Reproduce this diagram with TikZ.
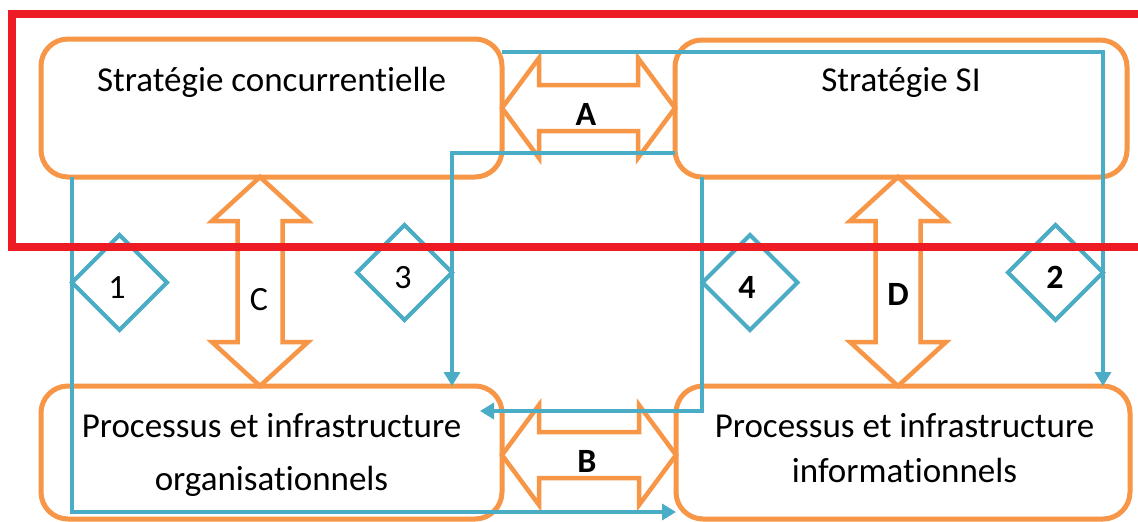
\documentclass[tikz,border=0pt]{standalone}
\usepackage{fontspec}
\setmainfont{Carlito}[RawFeature={-liga;-clig;-dlig}]
\usetikzlibrary{arrows.meta,shapes.geometric,calc}

\definecolor{boxorange}{HTML}{F79646}
\definecolor{linkblue}{HTML}{4BACC6}
\definecolor{framered}{HTML}{ED1C24}

% horizontal outlined double arrow between two points (same height)
\newcommand{\hblock}[2]{%
  \draw[blk] let \p1=(#1), \p2=(#2) in
    (\x1,\y1) -- (\x1+37pt,\y1+50pt) -- (\x1+37pt,\y1+23pt) -- (\x2-37pt,\y1+23pt)
    -- (\x2-37pt,\y1+50pt) -- (\x2,\y1) -- (\x2-37pt,\y1-50pt) -- (\x2-37pt,\y1-23pt)
    -- (\x1+37pt,\y1-23pt) -- (\x1+37pt,\y1-50pt) -- cycle;}
% vertical outlined double arrow, first point on top
\newcommand{\vblock}[2]{%
  \draw[blk] let \p1=(#1), \p2=(#2) in
    (\x1,\y1) -- (\x1+48pt,\y1-44pt) -- (\x1+22.5pt,\y1-44pt) -- (\x1+22.5pt,\y2+44pt)
    -- (\x1+48pt,\y2+44pt) -- (\x1,\y2) -- (\x1-48pt,\y2+44pt) -- (\x1-22.5pt,\y2+44pt)
    -- (\x1-22.5pt,\y1-44pt) -- (\x1-48pt,\y1-44pt) -- cycle;}

\tikzset{
  box/.style={draw=boxorange, line width=5pt, rounded corners=27pt,
              inner sep=0pt, outer sep=0pt},
  blk/.style={draw=boxorange, line width=4.5pt, fill=white, line join=miter},
  flow/.style={draw=linkblue, line width=4pt,
               -{Triangle[length=14pt,width=16pt]}},
  gate/.style={diamond, draw=linkblue, line width=4pt, aspect=1,
               minimum width=95pt, minimum height=95pt,
               inner sep=0pt, outer sep=0pt},
  txt/.style={font=\fontsize{35}{42}\selectfont, inner sep=0pt, anchor=base},
  tag/.style={font=\bfseries\fontsize{34}{40}\selectfont, inner sep=0pt, anchor=base},
  plaintag/.style={tag, font=\fontsize{34}{40}\selectfont},
}

\begin{document}
\begin{tikzpicture}[x=1pt,y=-1pt]
\clip (0,0) rectangle (1138,522);
\fill[white] (0,0) rectangle (1138,522);

% the four blocks
\node[box, minimum width=461pt, minimum height=138pt] (tl) at (271.5,108) {};
\node[box, minimum width=452pt, minimum height=137pt] (tr) at (901,108.5) {};
\node[box, minimum width=461pt, minimum height=133pt] (bl) at (271.5,452.5) {};
\node[box, minimum width=454pt, minimum height=133pt] (br) at (903,452.5) {};

\node[txt] (tlt) at (271.5,91) {Stratégie concurrentielle};
\node[txt] (trt) at (901,91) {Stratégie SI};
\node[txt] (blt1) at (271.5,437) {Processus et infrastructure};
\node[txt] (blt2) at (271.5,490) {organisationnels};
\node[txt] (brt1) at (904.5,437) {Processus et infrastructure};
\node[txt] (brt2) at (904.5,482) {informationnels};

% helper positions for the arrows
\coordinate (yB) at (0,455);
\coordinate (xC) at (260,0);
\coordinate (xD) at (898,0);

% alignment arrows A, B, C, D
\hblock{tl.east}{tr.west}
\hblock{bl.east |- yB}{br.west |- yB}
\vblock{tl.south -| xC}{bl.north -| xC}
\vblock{tr.south -| xD}{br.north -| xD}

\node[tag] (la) at (586,125) {A};
\node[tag] (lb) at (587,472) {B};
\node[plaintag] (lc) at (259,310) {C};
\node[tag] (ld) at (898,305) {D};

% the four perspectives
\coordinate (x1) at (72,0);
\coordinate (yb1) at (0,512);
\coordinate (x2) at (1103,0);
\coordinate (y2) at (0,52);
\coordinate (x3) at (452,0);
\coordinate (y3) at (0,153);
\coordinate (x4) at (702,0);
\coordinate (y4) at (0,411);
\coordinate (t4) at ($(bl.east |- y4)+(-22,0)$);

\draw[flow] (tl.south -| x1) -- (x1 |- yb1) -- (br.west |- yb1);
\draw[flow] (tl.east |- y2) -- (x2 |- y2) -- (br.north -| x2);
\draw[flow] (tr.west |- y3) -- (x3 |- y3) -- (bl.north -| x3);
\draw[flow] (tr.south -| x4) -- (x4 |- y4) -- (t4);

\node[gate] (d1) at (119.5,282.5) {};
\node[gate] (d2) at (1055.5,272.5) {};
\node[gate] (d3) at (404.5,272.5) {};
\node[gate] (d4) at (750,282.5) {};

\node[plaintag] (n1) at (117,298) {1};
\node[tag] (n2) at (1055,288) {2};
\node[plaintag] (n3) at (403,288) {3};
\node[tag] (n4) at (747,298) {4};

% highlighted strategic level
\draw[framered, line width=8pt] (12,14) rectangle (1160,247);
\end{tikzpicture}
\end{document}
